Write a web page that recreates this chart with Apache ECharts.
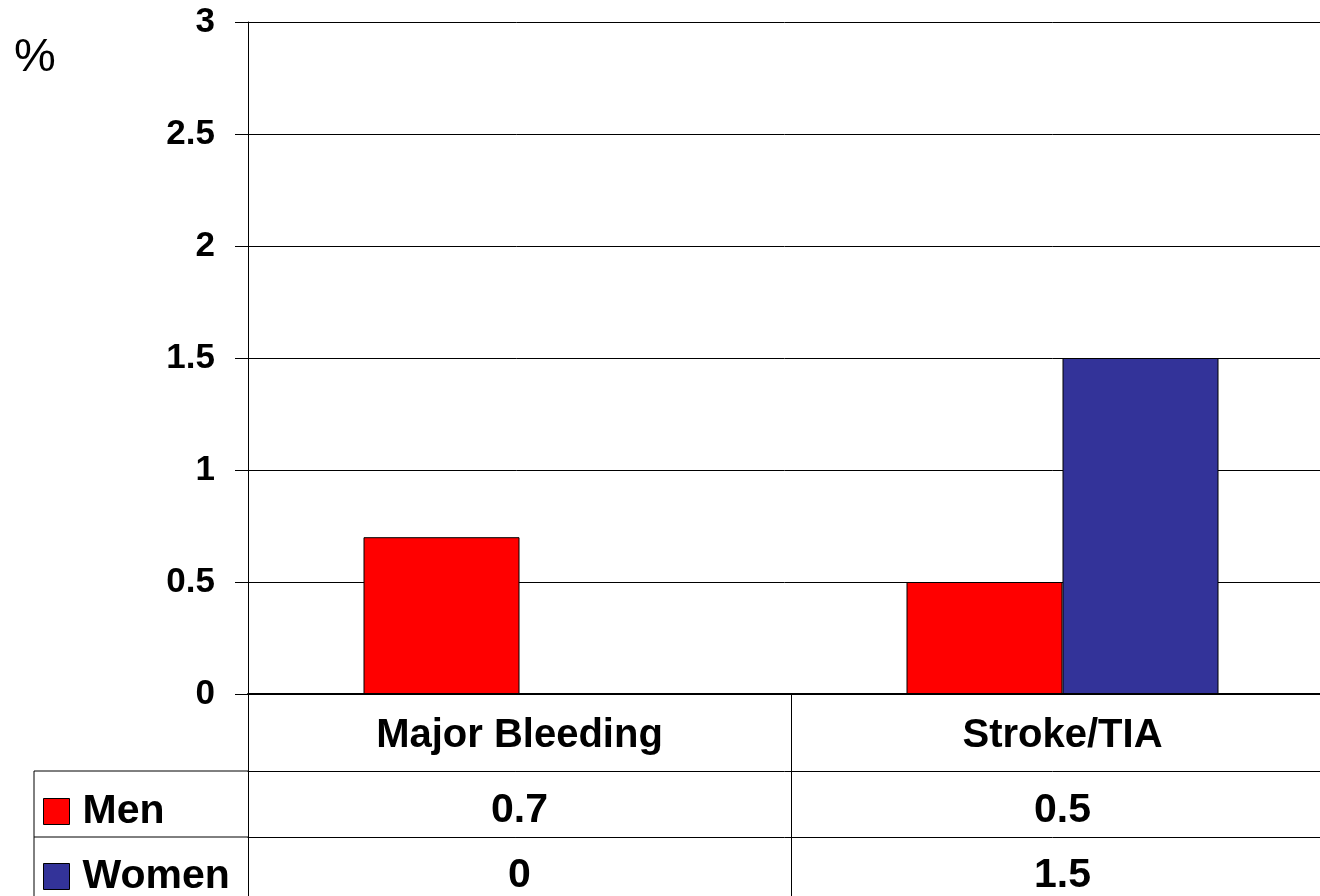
<!DOCTYPE html>
<html>
<head>
<meta charset="utf-8">
<script src="https://cdn.jsdelivr.net/npm/echarts@6/dist/echarts.min.js"></script>
<style>
  html, body { margin: 0; padding: 0; background: #fff; }
  #chart { width: 1320px; height: 896px; }
</style>
</head>
<body>
<div id="chart"></div>
<script>
// Event rates (%) by sex
const categories = ['Major Bleeding', 'Stroke/TIA'];
const menValues = [0.7, 0.5];
const womenValues = [0, 1.5];
const seriesNames = ['Men', 'Women'];
const seriesColors = ['#FF0000', '#333399'];

const FONT = '"Liberation Sans", Arial, sans-serif';

// Grid geometry, reused by the data-table rows under the plot
const gridLeft = 248, gridTop = 22, gridHeight = 672, gridWidth = 1086;
const axisY = gridTop + gridHeight;        // 694
const rowCat = 77, rowMen = 66, rowWomen = 60;
const tableLeft = 34;

const chart = echarts.init(document.getElementById('chart'), null, { renderer: 'canvas' });

function tableAxis(offset, tickLen, labels, fontSize, margin, lineWidth) {
  return {
    type: 'category',
    data: categories,
    position: 'bottom',
    offset: offset,
    boundaryGap: true,
    axisLine: { show: true, lineStyle: { color: '#000', width: lineWidth } },
    axisTick: { show: true, length: tickLen, lineStyle: { color: '#000', width: 1 } },
    axisLabel: {
      show: true,
      interval: 0,
      margin: margin,
      color: '#000',
      fontFamily: FONT,
      fontWeight: 'bold',
      fontSize: fontSize,
      formatter: (v, i) => String(labels[i])
    },
    splitLine: { show: false }
  };
}

function legendRow(name, top) {
  return {
    data: [name],
    orient: 'vertical',
    left: 43,
    top: top,
    padding: 0,
    itemWidth: 26,
    itemHeight: 26,
    icon: 'rect',
    selectedMode: false,
    itemStyle: { borderColor: '#000', borderWidth: 1 },
    textStyle: {
      fontFamily: FONT,
      fontWeight: 'bold',
      fontSize: 41,
      color: '#000',
      lineHeight: 26,
      padding: [0, 0, 0, 8]
    }
  };
}

const option = {
  animation: false,
  backgroundColor: '#fff',
  title: {
    text: '%',
    left: 9,
    top: 30,
    textStyle: { fontFamily: FONT, fontWeight: 'normal', fontSize: 47, color: '#000' }
  },
  legend: [
    legendRow(seriesNames[0], 791),
    legendRow(seriesNames[1], 856)
  ],
  grid: {
    left: gridLeft, top: gridTop, width: gridWidth, height: gridHeight,
    containLabel: false,
    outerBoundsMode: 'none'
  },
  xAxis: [
    tableAxis(0, rowCat, categories, 40, 22, 2),
    tableAxis(rowCat, rowMen, menValues, 41, 19, 1),
    tableAxis(rowCat + rowMen, rowWomen, womenValues, 41, 18, 1)
  ],
  yAxis: {
    type: 'value',
    min: 0,
    max: 3,
    interval: 0.5,
    axisLine: { show: true, lineStyle: { color: '#000', width: 1 } },
    axisTick: { show: true, length: 13, lineStyle: { color: '#000', width: 1 } },
    axisLabel: {
      margin: 33,
      color: '#000',
      fontFamily: FONT,
      fontWeight: 'bold',
      fontSize: 35
    },
    splitLine: { show: true, lineStyle: { color: '#000', width: 1 } }
  },
  series: [
    {
      name: seriesNames[0],
      type: 'bar',
      xAxisIndex: 0,
      data: menValues,
      barWidth: 156,
      barGap: '0%',
      itemStyle: { color: seriesColors[0], borderColor: '#000', borderWidth: 1 }
    },
    {
      name: seriesNames[1],
      type: 'bar',
      xAxisIndex: 0,
      data: womenValues,
      barWidth: 156,
      barGap: '0%',
      itemStyle: { color: seriesColors[1], borderColor: '#000', borderWidth: 1 }
    }
  ],
  // Left column of the data table (row separators and outer edge)
  graphic: [
    { type: 'line', shape: { x1: tableLeft, y1: axisY + rowCat, x2: gridLeft, y2: axisY + rowCat }, style: { stroke: '#000', lineWidth: 1 } },
    { type: 'line', shape: { x1: tableLeft, y1: axisY + rowCat + rowMen, x2: gridLeft, y2: axisY + rowCat + rowMen }, style: { stroke: '#000', lineWidth: 1 } },
    { type: 'line', shape: { x1: tableLeft, y1: axisY + rowCat, x2: tableLeft, y2: 896 }, style: { stroke: '#000', lineWidth: 1 } }
  ]
};

chart.setOption(option);
</script>
</body>
</html>
